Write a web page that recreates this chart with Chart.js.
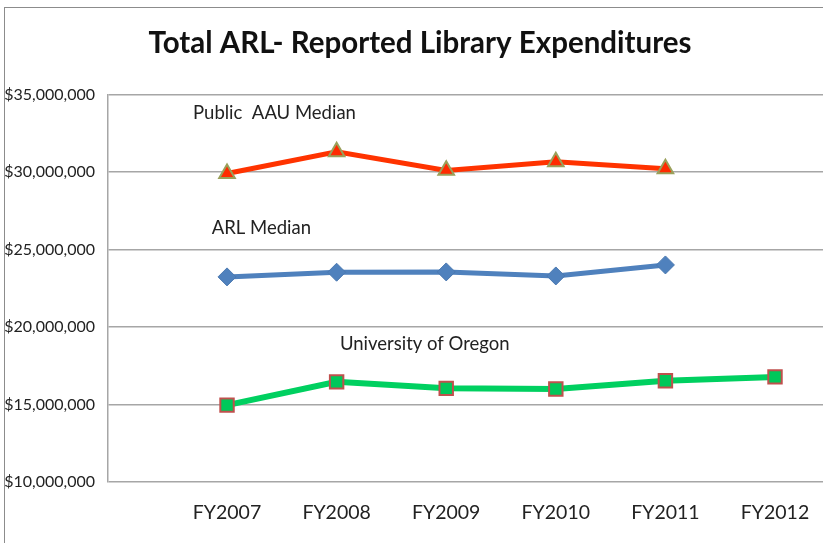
<!DOCTYPE html>
<html>
<head>
<meta charset="utf-8">
<script src="https://cdn.jsdelivr.net/npm/chart.js@4.4.0/dist/chart.umd.min.js"></script>
<style>
  html, body { margin: 0; padding: 0; background: #fff; overflow: hidden; }
  #wrap { width: 823px; height: 543px; position: relative; overflow: hidden; }
</style>
</head>
<body>
<div id="wrap"><canvas id="chart" width="840" height="543"></canvas></div>
<script>
const categories = ["FY2007", "FY2008", "FY2009", "FY2010", "FY2011", "FY2012"];
const aauMedian = [29900000, 31300000, 30100000, 30650000, 30200000, null];
const arlMedian = [23230000, 23530000, 23550000, 23290000, 24000000, null];
const oregon = [14960000, 16460000, 16040000, 16000000, 16530000, 16780000];
const yTicks = [10000000, 15000000, 20000000, 25000000, 30000000, 35000000];

// series labels written inside the plot (x in category index, y in dollars)
const seriesLabels = [
  { text: "Public  AAU Median", x: -0.31, y: 33780000 },
  { text: "ARL Median", x: -0.14, y: 26370000 },
  { text: "University of Oregon", x: 1.03, y: 18890000 }
];

const FONT = "Lato, 'Open Sans', sans-serif";

const toPoints = arr => arr.map((v, i) => ({ x: i, y: v }));

const frame = {
  id: 'frame',
  beforeDraw(chart) {
    const ctx = chart.ctx;
    ctx.save();
    ctx.strokeStyle = '#8c8c8c';
    ctx.lineWidth = 1;
    ctx.strokeRect(4.5, 7.5, 1000, 1000);
    ctx.restore();
  }
};

const inlineLabels = {
  id: 'inlineLabels',
  afterDatasetsDraw(chart) {
    const { ctx, scales } = chart;
    ctx.save();
    ctx.font = "18.5px " + FONT;
    ctx.fillStyle = '#222';
    ctx.textBaseline = 'middle';
    ctx.textAlign = 'left';
    seriesLabels.forEach(l => {
      ctx.fillText(l.text, scales.x.getPixelForValue(l.x), scales.y.getPixelForValue(l.y));
    });
    ctx.restore();
  }
};

new Chart(document.getElementById('chart'), {
  type: 'line',
  data: {
    datasets: [
      {
        label: 'Public AAU Median',
        data: toPoints(aauMedian),
        borderColor: '#ff3300',
        borderWidth: 5,
        pointStyle: 'triangle',
        pointRadius: 9,
        pointBackgroundColor: '#ff2a00',
        pointBorderColor: '#9aa05a',
        pointBorderWidth: 2
      },
      {
        label: 'ARL Median',
        data: toPoints(arlMedian),
        borderColor: '#4f81bd',
        borderWidth: 5,
        pointStyle: 'rectRot',
        pointRadius: 9,
        pointBackgroundColor: '#4f81bd',
        pointBorderColor: '#4a78b0',
        pointBorderWidth: 1
      },
      {
        label: 'University of Oregon',
        data: toPoints(oregon),
        borderColor: '#00d060',
        borderWidth: 6,
        pointStyle: 'rect',
        pointRadius: 9.5,
        pointBackgroundColor: '#00c85a',
        pointBorderColor: '#c0504d',
        pointBorderWidth: 2
      }
    ]
  },
  options: {
    responsive: false,
    animation: false,
    layout: { autoPadding: false, padding: 0 },
    plugins: {
      legend: { display: false },
      tooltip: { enabled: false },
      title: {
        display: true,
        text: 'Total ARL- Reported Library Expenditures',
        color: '#111',
        font: { family: FONT, size: 29.5, weight: 'bold' },
        padding: { top: 26, bottom: 33 }
      }
    },
    scales: {
      x: {
        type: 'linear',
        min: -1.086,
        max: 5.593,
        grid: { display: false },
        border: { display: false },
        afterBuildTicks: scale => { scale.ticks = categories.map((c, i) => ({ value: i })); },
        afterFit: scale => { scale.height = 61; },
        ticks: {
          color: '#222',
          font: { family: FONT, size: 19.5 },
          padding: 11,
          maxRotation: 0,
          callback: v => categories[v]
        }
      },
      y: {
        min: 10000000,
        max: 35000000,
        afterBuildTicks: scale => { scale.ticks = yTicks.map(v => ({ value: v })); },
        afterFit: scale => { scale.width = 108; },
        grid: { color: '#a6a6a6', lineWidth: 1.5, drawTicks: false },
        border: { color: '#a6a6a6', width: 1.5 },
        ticks: {
          color: '#222',
          font: { family: FONT, size: 16 },
          padding: 13,
          callback: v => '$' + v.toLocaleString('en-US')
        }
      }
    }
  },
  plugins: [frame, inlineLabels]
});
</script>
</body>
</html>
